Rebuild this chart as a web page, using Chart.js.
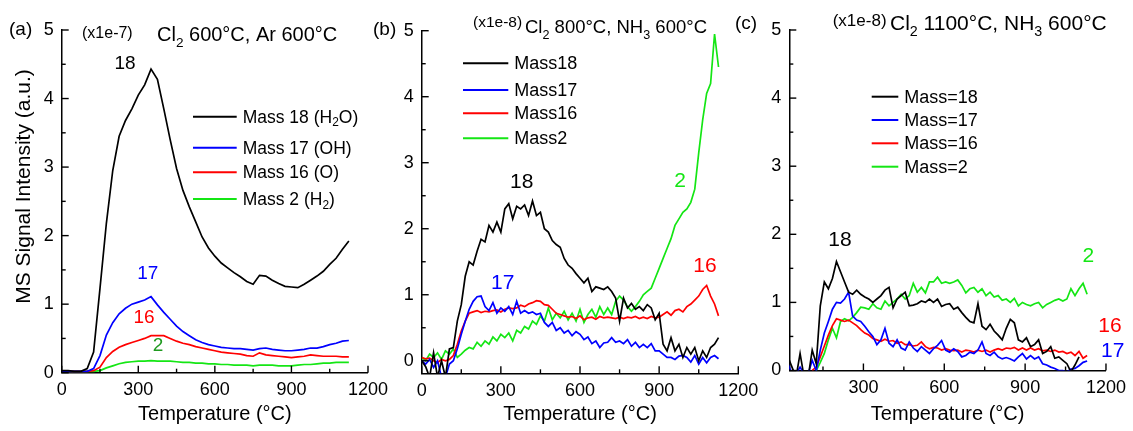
<!DOCTYPE html>
<html>
<head>
<meta charset="utf-8">
<title>MS signal vs temperature</title>
<script src="https://cdn.jsdelivr.net/npm/chart.js@4.4.1/dist/chart.umd.min.js"></script>
<style>
  html, body { margin: 0; padding: 0; background: #fff; }
  #wrap { position: relative; width: 1133px; height: 431px; overflow: hidden; }
  #wrap canvas { position: absolute; left: 0; top: 0; }
</style>
</head>
<body>
<div id="wrap">
  <canvas id="chartA" width="1133" height="431"></canvas>
  <canvas id="chartB" width="1133" height="431"></canvas>
  <canvas id="chartC" width="1133" height="431"></canvas>
</div>
<script>
'use strict';

// ── Data: panel (a) Cl2 600°C, Ar 600°C (x1e-7) ───────────────────
const tempA = [0, 25, 50, 75, 100, 125, 150, 175, 200, 225, 250, 275, 300, 325, 350, 375, 400, 425, 450, 475,
  500, 525, 550, 575, 600, 625, 650, 675, 700, 725, 750, 775, 800, 825, 850, 875, 900, 925, 950, 975,
  1000, 1025, 1050, 1075, 1100, 1125];
const a18 = [0.03, 0.03, 0.02, 0.02, 0.06, 0.30, 1.23, 2.18, 2.95, 3.45, 3.68, 3.85, 4.05, 4.20, 4.43, 4.28, 3.85, 3.40, 2.98, 2.66,
  2.42, 2.20, 1.98, 1.82, 1.70, 1.60, 1.53, 1.46, 1.40, 1.33, 1.29, 1.42, 1.41, 1.35, 1.30, 1.26, 1.25, 1.24, 1.29, 1.35,
  1.41, 1.48, 1.58, 1.67, 1.80, 1.92];
const a17 = [0.02, 0.02, 0.02, 0.02, 0.02, 0.06, 0.25, 0.55, 0.73, 0.86, 0.94, 1.00, 1.03, 1.06, 1.11, 0.99, 0.88, 0.78, 0.68, 0.60,
  0.54, 0.48, 0.44, 0.41, 0.39, 0.37, 0.36, 0.35, 0.35, 0.34, 0.33, 0.35, 0.36, 0.34, 0.33, 0.32, 0.32, 0.33, 0.34, 0.36,
  0.36, 0.38, 0.41, 0.43, 0.46, 0.47];
const a16 = [0.02, 0.02, 0.02, 0.02, 0.02, 0.03, 0.08, 0.22, 0.31, 0.37, 0.41, 0.44, 0.47, 0.50, 0.54, 0.54, 0.54, 0.50, 0.46, 0.43,
  0.41, 0.38, 0.36, 0.34, 0.32, 0.30, 0.29, 0.28, 0.27, 0.25, 0.24, 0.29, 0.26, 0.25, 0.24, 0.23, 0.22, 0.23, 0.24, 0.26,
  0.25, 0.24, 0.24, 0.24, 0.23, 0.23];
const a2 = [0.02, 0.02, 0.02, 0.02, 0.02, 0.02, 0.03, 0.07, 0.10, 0.13, 0.15, 0.16, 0.17, 0.17, 0.175, 0.17, 0.17, 0.17, 0.16, 0.15,
  0.15, 0.14, 0.14, 0.13, 0.13, 0.12, 0.12, 0.11, 0.11, 0.11, 0.10, 0.11, 0.11, 0.11, 0.10, 0.10, 0.10, 0.11, 0.12, 0.12,
  0.13, 0.14, 0.14, 0.15, 0.15, 0.15];

// ── Data: panel (b) Cl2 800°C, NH3 600°C (x1e-8) ──────────────────
const tempB = [0, 15, 30, 45, 60, 75, 90, 105, 120, 135, 150, 165, 180, 195, 210, 225, 240, 255, 270, 285,
  300, 315, 330, 345, 360, 375, 390, 405, 420, 435, 450, 465, 480, 495, 510, 525, 540, 555, 570, 585,
  600, 615, 630, 645, 660, 675, 690, 705, 720, 735, 750, 765, 780, 795, 810, 825, 840, 855, 870, 885,
  900, 915, 930, 945, 960, 975, 990, 1005, 1020, 1035, 1050, 1065, 1080, 1095, 1110, 1125];
const b18 = [0.00, -0.09, -0.25, 0.12, -0.25, 0.00, -0.25, 0.18, 0.20, 0.60, 0.85, 1.28, 1.50, 1.45, 1.66, 1.84, 1.80, 2.05, 1.95, 2.10,
  1.95, 2.30, 2.38, 2.15, 2.34, 2.30, 2.36, 2.20, 2.42, 2.20, 2.25, 2.00, 1.95, 1.82, 1.76, 1.72, 1.55, 1.45, 1.40, 1.32,
  1.25, 1.18, 1.25, 1.05, 1.12, 1.10, 1.08, 1.12, 1.05, 0.95, 0.60, 0.95, 0.80, 0.87, 0.78, 0.82, 0.76, 0.85, 0.80, 0.62,
  0.72, 0.25, 0.15, 0.35, 0.15, 0.25, 0.05, 0.20, 0.10, 0.20, 0.00, 0.15, 0.05, 0.20, 0.25, 0.35];
const b17 = [0.00, -0.05, 0.02, -0.10, 0.00, -0.25, -0.25, -0.05, 0.00, 0.18, 0.40, 0.60, 0.78, 0.90, 0.97, 0.98, 0.82, 0.76, 0.88, 0.72,
  0.80, 0.75, 0.82, 0.70, 0.90, 0.72, 0.76, 0.72, 0.74, 0.70, 0.72, 0.58, 0.52, 0.58, 0.46, 0.50, 0.42, 0.46, 0.38, 0.44,
  0.40, 0.32, 0.36, 0.26, 0.30, 0.20, 0.27, 0.28, 0.35, 0.28, 0.30, 0.26, 0.32, 0.22, 0.28, 0.20, 0.25, 0.20, 0.26, 0.15,
  0.15, 0.10, 0.05, 0.05, 0.02, 0.07, 0.08, 0.05, -0.02, 0.08, -0.05, 0.05, -0.03, 0.05, 0.08, 0.03];
const b16 = [0.05, 0.03, 0.04, 0.00, -0.03, 0.02, 0.00, 0.02, 0.08, 0.25, 0.45, 0.60, 0.72, 0.74, 0.76, 0.73, 0.75, 0.74, 0.76, 0.77,
  0.74, 0.78, 0.80, 0.79, 0.80, 0.84, 0.82, 0.86, 0.88, 0.91, 0.90, 0.85, 0.84, 0.78, 0.72, 0.70, 0.68, 0.66, 0.67, 0.64,
  0.68, 0.62, 0.65, 0.66, 0.63, 0.67, 0.65, 0.66, 0.65, 0.64, 0.66, 0.64, 0.66, 0.65, 0.67, 0.64, 0.66, 0.64, 0.67, 0.65,
  0.66, 0.70, 0.74, 0.69, 0.76, 0.78, 0.74, 0.82, 0.86, 0.92, 0.98, 1.08, 1.14, 0.98, 0.86, 0.68];
const b2 = [0.05, 0.00, 0.10, 0.05, 0.12, 0.02, 0.15, 0.10, 0.18, 0.05, 0.10, 0.16, 0.20, 0.18, 0.28, 0.22, 0.30, 0.25, 0.36, 0.30,
  0.40, 0.35, 0.42, 0.30, 0.46, 0.42, 0.52, 0.48, 0.60, 0.55, 0.68, 0.60, 0.80, 0.62, 0.72, 0.65, 0.75, 0.62, 0.72, 0.60,
  0.78, 0.58, 0.70, 0.78, 0.66, 0.82, 0.70, 0.80, 0.70, 0.90, 0.98, 0.92, 0.82, 0.75, 0.82, 0.90, 1.00, 1.05, 1.10, 1.25,
  1.40, 1.55, 1.70, 1.85, 2.05, 2.15, 2.25, 2.30, 2.40, 2.60, 3.15, 3.65, 4.05, 4.20, 4.95, 4.45];

// ── Data: panel (c) Cl2 1100°C, NH3 600°C (x1e-8) ─────────────────
const tempC = [20, 35, 50, 65, 80, 95, 110, 125, 140, 155, 170, 185, 200, 215, 230, 245, 260, 275, 290, 305,
  320, 335, 350, 365, 380, 395, 410, 425, 440, 455, 470, 485, 500, 515, 530, 545, 560, 575, 590, 605,
  620, 635, 650, 665, 680, 695, 710, 725, 740, 755, 770, 785, 800, 815, 830, 845, 860, 875, 890, 905,
  920, 935, 950, 965, 980, 995, 1010, 1025, 1040, 1055, 1070, 1085, 1100, 1115, 1130];
const c18 = [0.20, 0.05, -0.10, 0.25, -0.10, -0.10, 0.30, 0.10, 0.95, 1.30, 1.20, 1.35, 1.60, 1.45, 1.30, 1.15, 1.12, 1.18, 1.12, 1.08,
  1.05, 1.00, 1.05, 1.10, 1.18, 1.22, 0.92, 1.05, 1.10, 1.15, 0.95, 0.96, 0.98, 1.02, 1.00, 1.05, 1.00, 1.05, 0.94, 0.97,
  0.98, 0.90, 0.93, 0.85, 0.78, 0.72, 0.70, 0.98, 0.65, 0.60, 0.68, 0.58, 0.52, 0.45, 0.62, 0.75, 0.70, 0.45, 0.42, 0.48,
  0.35, 0.38, 0.45, 0.25, 0.28, 0.35, 0.18, 0.20, 0.15, 0.10, -0.02, 0.08, 0.20, null, null];
const c17 = [0.10, -0.05, -0.05, 0.05, -0.05, -0.05, 0.15, 0.00, 0.30, 0.55, 0.72, 0.90, 1.00, 0.99, 1.05, 1.15, 0.80, 0.74, 0.72, 0.65,
  0.57, 0.50, 0.38, 0.45, 0.62, 0.40, 0.35, 0.45, 0.33, 0.30, 0.42, 0.33, 0.28, 0.35, 0.30, 0.25, 0.32, 0.37, 0.44, 0.30,
  0.27, 0.32, 0.28, 0.20, 0.22, 0.27, 0.25, 0.30, 0.42, 0.25, 0.22, 0.27, 0.20, 0.17, 0.19, 0.17, 0.14, 0.20, 0.25, 0.17,
  0.22, 0.17, 0.20, 0.10, 0.08, 0.05, 0.03, 0.00, 0.00, -0.02, 0.02, 0.03, 0.07, 0.12, 0.14];
const c16 = [null, null, null, null, null, null, 0.00, 0.05, 0.20, 0.36, 0.52, 0.66, 0.76, 0.74, 0.72, 0.74, 0.70, 0.66, 0.60, 0.55,
  0.52, 0.47, 0.45, 0.43, 0.46, 0.43, 0.44, 0.40, 0.42, 0.38, 0.38, 0.36, 0.37, 0.42, 0.35, 0.32, 0.34, 0.33, 0.30, 0.32,
  0.30, 0.29, 0.30, 0.27, 0.30, 0.29, 0.27, 0.30, 0.28, 0.30, 0.27, 0.30, 0.32, 0.30, 0.33, 0.32, 0.34, 0.30, 0.33, 0.30,
  0.33, 0.30, 0.32, 0.29, 0.30, 0.28, 0.30, 0.27, 0.28, 0.25, 0.27, 0.22, 0.28, 0.18, 0.22];
const c2 = [null, null, null, null, null, null, null, 0.00, 0.12, 0.25, 0.45, 0.62, 0.48, 0.72, 0.76, 0.73, 0.78, 0.85, 0.93, 0.92,
  0.90, 0.98, 0.92, 0.90, 1.02, 0.95, 1.00, 1.05, 1.12, 1.05, 1.10, 1.28, 1.15, 1.22, 1.14, 1.30, 1.30, 1.37, 1.28, 1.30,
  1.28, 1.30, 1.33, 1.25, 1.14, 1.20, 1.22, 1.15, 1.20, 1.10, 1.15, 1.08, 1.10, 1.03, 1.05, 1.00, 1.06, 0.95, 1.00, 0.97,
  0.95, 0.98, 1.00, 0.92, 0.97, 1.00, 1.03, 1.05, 1.02, 1.05, 1.20, 1.10, 1.20, 1.28, 1.12];

// ── Legend texts (array entry = subscript) ─────────────────────────
const legendA = [['Mass 18 (H', ['2'], 'O)'], ['Mass 17 (OH)'], ['Mass 16 (O)'], ['Mass 2 (H', ['2'], ')']];
const legendB = [['Mass18'], ['Mass17'], ['Mass16'], ['Mass2']];
const legendC = [['Mass=18'], ['Mass=17'], ['Mass=16'], ['Mass=2']];

const COLORS = ['#000000', '#0000ff', '#ff0000', '#14e614'];
const FONT = "'Liberation Sans', Arial, Helvetica, sans-serif";

// ── Rich text with subscripts ──────────────────────────────────────
function drawRich(ctx, segs, x, y, size, align) {
  const sub = size * 0.68;
  let w = 0;
  segs.forEach(s => {
    const isSub = Array.isArray(s);
    ctx.font = `${isSub ? sub : size}px ${FONT}`;
    w += ctx.measureText(isSub ? s[0] : s).width;
  });
  let cx = align === 'center' ? x - w / 2 : x;
  ctx.textAlign = 'left';
  segs.forEach(s => {
    const isSub = Array.isArray(s);
    const t = isSub ? s[0] : s;
    ctx.font = `${isSub ? sub : size}px ${FONT}`;
    ctx.fillText(t, cx, y + (isSub ? size * 0.3 : 0));
    cx += ctx.measureText(t).width;
  });
}

// ── Axis tick values at a fixed step inside [min, max] ────────────
function stepValues(min, max, step) {
  const out = [];
  for (let v = Math.ceil(min / step - 1e-9) * step; v <= max + 1e-9; v += step) out.push(Math.round(v * 100) / 100);
  return out;
}

// ── Decor plugin: inward ticks, legend, labels, titles ─────────────
const decorPlugin = {
  id: 'decor',
  afterDraw(chart, args, opts) {
    const ctx = chart.ctx;
    const xs = chart.scales.x, ys = chart.scales.y;
    ctx.save();
    ctx.strokeStyle = '#000';
    ctx.lineWidth = 1.4;

    // tick marks pointing into the plot
    stepValues(xs.min, xs.max, 150).forEach(v => {
      const px = xs.getPixelForValue(v);
      const len = v % 300 === 0 ? 7 : 4;
      ctx.beginPath(); ctx.moveTo(px, xs.top); ctx.lineTo(px, xs.top - len); ctx.stroke();
    });
    stepValues(ys.min, ys.max, 0.5).forEach(v => {
      const py = ys.getPixelForValue(v);
      const len = Number.isInteger(v) ? 7 : 4;
      ctx.beginPath(); ctx.moveTo(ys.right, py); ctx.lineTo(ys.right + len, py); ctx.stroke();
    });

    // legend
    const lg = opts.legend;
    if (lg) {
      ctx.textBaseline = 'middle';
      lg.items.forEach((segs, i) => {
        const y = lg.rows[i];
        ctx.strokeStyle = COLORS[i];
        ctx.lineWidth = 2;
        ctx.beginPath(); ctx.moveTo(lg.x0, y); ctx.lineTo(lg.x1, y); ctx.stroke();
        ctx.fillStyle = '#000';
        drawRich(ctx, segs, lg.tx, y + 1, lg.size, 'left');
      });
    }

    // free texts
    (opts.texts || []).forEach(t => {
      ctx.fillStyle = t.color || '#000';
      ctx.textBaseline = t.baseline || 'alphabetic';
      if (t.rotate) {
        ctx.save();
        ctx.translate(t.x, t.y);
        ctx.rotate(t.rotate);
        drawRich(ctx, t.segs, 0, 0, t.size, 'center');
        ctx.restore();
      } else {
        drawRich(ctx, t.segs, t.x, t.y, t.size, t.align || 'left');
      }
    });
    ctx.restore();
  },
};

// ── Panel builder ──────────────────────────────────────────────────
function makePanel(canvasId, p) {
  const datasets = p.series.map((vals, i) => ({
    label: p.names[i],
    data: p.temps.map((t, k) => ({ x: t, y: vals[k] })),
    borderColor: COLORS[i],
    borderWidth: 1.7,
    pointRadius: 0,
    tension: 0,
    fill: false,
    spanGaps: false,
  }));

  return new Chart(document.getElementById(canvasId), {
    type: 'line',
    data: { datasets },
    plugins: [decorPlugin],
    options: {
      responsive: false,
      animation: false,
      events: [],
      layout: { autoPadding: false, padding: p.pad },
      plugins: {
        legend: { display: false },
        tooltip: { enabled: false },
        decor: p.decor,
      },
      scales: {
        x: {
          type: 'linear', min: p.xMin, max: 1200,
          grid: { display: false, drawTicks: false },
          border: { display: true, color: '#000', width: 1.5 },
          afterBuildTicks: s => { s.ticks = stepValues(s.min, s.max, 300).map(v => ({ value: v })); },
          ticks: {
            autoSkip: false, maxRotation: 0, padding: 7,
            color: '#000', font: { family: FONT, size: 18 },
            callback: v => String(v),
          },
          title: {
            display: true, text: 'Temperature (°C)', color: '#000',
            font: { family: FONT, size: 20 }, padding: { top: 0, bottom: 5 },
          },
          afterFit: s => { s.height = p.xAxisH; },
        },
        y: {
          type: 'linear', min: p.yMin, max: 5,
          grid: { display: false, drawTicks: false },
          border: { display: true, color: '#000', width: 1.5 },
          afterBuildTicks: s => { s.ticks = stepValues(s.min, s.max, 1).map(v => ({ value: v })); },
          ticks: {
            autoSkip: false, padding: 8,
            color: '#000', font: { family: FONT, size: 18 },
            callback: v => String(v),
          },
          afterFit: s => { s.width = p.yAxisW; },
        },
      },
    },
  });
}

const NAMES = ['Mass 18', 'Mass 17', 'Mass 16', 'Mass 2'];

// ── Panel (a) ──────────────────────────────────────────────────────
makePanel('chartA', {
  temps: tempA, series: [a18, a17, a16, a2], names: NAMES,
  xMin: 0, yMin: 0, yAxisW: 61.7, xAxisH: 58.3,
  pad: { left: 0, right: 1133 - 368, top: 30, bottom: 0 },
  decor: {
    legend: { x0: 193, x1: 236.7, tx: 242.7, rows: [116.7, 147.7, 172.3, 199], size: 17.5, items: legendA },
    texts: [
      { segs: ['(a)'], x: 9, y: 35, size: 19 },
      { segs: ['(x1e-7)'], x: 82, y: 37.5, size: 16 },
      { segs: ['Cl', ['2'], ' 600°C, Ar 600°C'], x: 157, y: 41, size: 20 },
      { segs: ['18'], x: 125, y: 64, size: 19, align: 'center', baseline: 'middle' },
      { segs: ['17'], x: 147.7, y: 274, size: 19, align: 'center', baseline: 'middle', color: COLORS[1] },
      { segs: ['16'], x: 144, y: 318, size: 19, align: 'center', baseline: 'middle', color: COLORS[2] },
      { segs: ['2'], x: 158, y: 346, size: 19, align: 'center', baseline: 'middle', color: '#1f9a1f' },
      { segs: ['MS Signal Intensity (a.u.)'], x: 24, y: 186.5, size: 21, baseline: 'middle', rotate: -Math.PI / 2 },
    ],
  },
});

// ── Panel (b) ──────────────────────────────────────────────────────
makePanel('chartB', {
  temps: tempB, series: [b18, b17, b16, b2], names: NAMES,
  xMin: 0, yMin: -0.19, yAxisW: 40, xAxisH: 57.7,
  pad: { left: 421.7 - 40, right: 1133 - 738.3, top: 30.7, bottom: 0 },
  decor: {
    legend: { x0: 463, x1: 508.3, tx: 514.3, rows: [63.3, 90, 113.3, 138.3], size: 18, items: legendB },
    texts: [
      { segs: ['(b)'], x: 373, y: 35, size: 19 },
      { segs: ['(x1e-8)'], x: 473, y: 27, size: 15.5 },
      { segs: ['Cl', ['2'], ' 800°C, NH', ['3'], ' 600°C'], x: 525, y: 33, size: 18.5 },
      { segs: ['18'], x: 521.7, y: 182.7, size: 21, align: 'center', baseline: 'middle' },
      { segs: ['2'], x: 680, y: 181.7, size: 21, align: 'center', baseline: 'middle', color: COLORS[3] },
      { segs: ['17'], x: 502.7, y: 283.3, size: 21, align: 'center', baseline: 'middle', color: COLORS[1] },
      { segs: ['16'], x: 705, y: 266.7, size: 21, align: 'center', baseline: 'middle', color: COLORS[2] },
    ],
  },
});

// ── Panel (c) ──────────────────────────────────────────────────────
makePanel('chartC', {
  temps: tempC, series: [c18, c17, c16, c2], names: NAMES,
  xMin: 25, yMin: 0, yAxisW: 40, xAxisH: 60.5,
  pad: { left: 789.3 - 40, right: 1133 - 1112.7, top: 30, bottom: 0 },
  decor: {
    legend: { x0: 871.7, x1: 898.3, tx: 904.3, rows: [96.7, 120, 143.3, 166.7], size: 18, items: legendC },
    texts: [
      { segs: ['(c)'], x: 735, y: 29, size: 19 },
      { segs: ['(x1e-8)'], x: 832.7, y: 26, size: 17 },
      { segs: ['Cl', ['2'], ' 1100°C, NH', ['3'], ' 600°C'], x: 890, y: 29.5, size: 21 },
      { segs: ['18'], x: 840, y: 240.7, size: 21, align: 'center', baseline: 'middle' },
      { segs: ['2'], x: 1088.3, y: 256.7, size: 21, align: 'center', baseline: 'middle', color: COLORS[3] },
      { segs: ['16'], x: 1110, y: 326.7, size: 21, align: 'center', baseline: 'middle', color: COLORS[2] },
      { segs: ['17'], x: 1112.7, y: 351.7, size: 21, align: 'center', baseline: 'middle', color: COLORS[1] },
    ],
  },
});
</script>
</body>
</html>
